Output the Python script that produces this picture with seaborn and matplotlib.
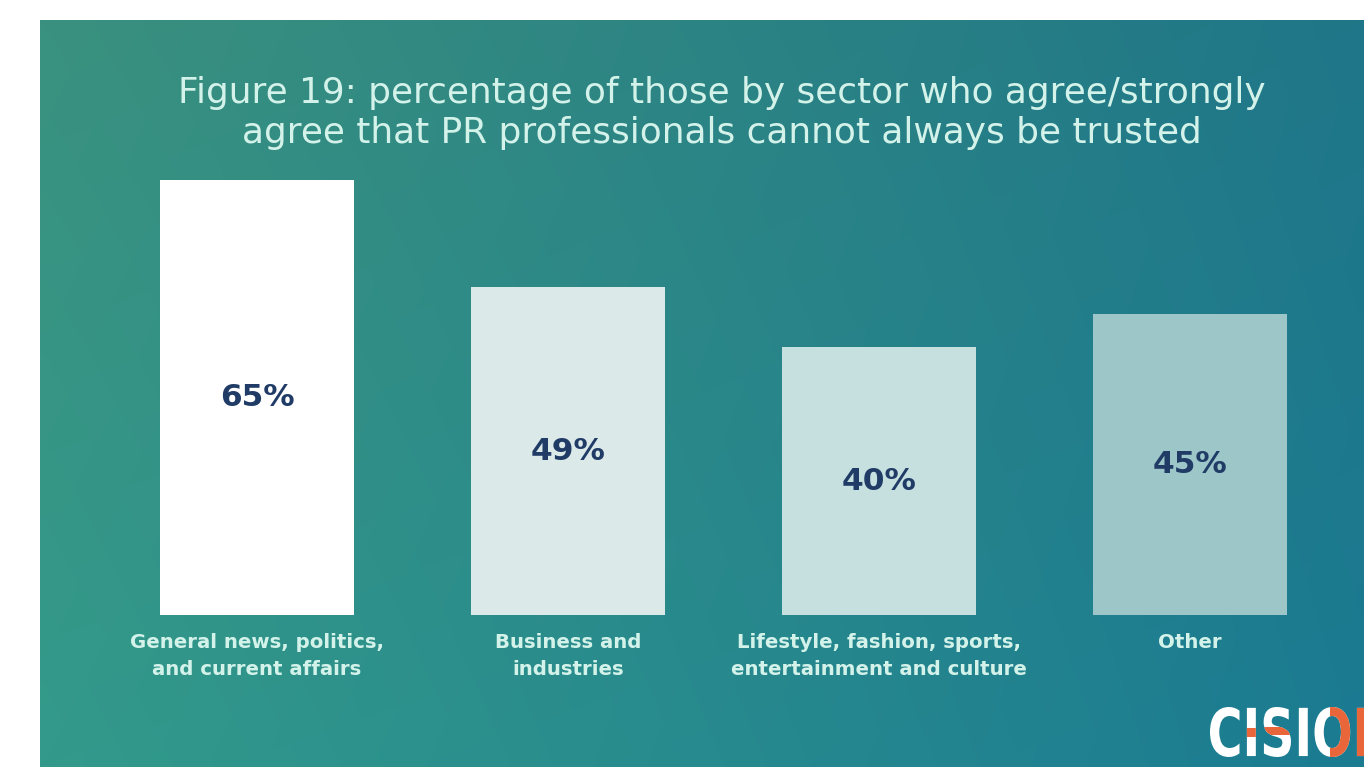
import numpy as np
import pandas as pd
import matplotlib
matplotlib.use("Agg")
import matplotlib.pyplot as plt
import seaborn as sns
from matplotlib.colors import to_rgb
from matplotlib.textpath import TextPath
from matplotlib.patches import PathPatch, Rectangle
from matplotlib.font_manager import FontProperties
from matplotlib.transforms import Affine2D

# Chart data
categories = [
    "General news, politics,\nand current affairs",
    "Business and\nindustries",
    "Lifestyle, fashion, sports,\nentertainment and culture",
    "Other",
]
values = [65, 49, 40, 45]
value_labels = ["65%", "49%", "40%", "45%"]
title = ("Figure 19: percentage of those by sector who agree/strongly\n"
         "agree that PR professionals cannot always be trusted")

bar_colors = ["#ffffff", "#dbe9e8", "#c6dfdf", "#9dc6c9"]
value_color = "#1f3b66"
text_color = "#d3f2ea"

sns.set_theme(style="white")
plt.rcParams["font.family"] = ["DejaVu Sans"]

W, H = 1364, 767
fig = plt.figure(figsize=(W / 100, H / 100), dpi=100, facecolor="white")

# Teal gradient panel
bg = fig.add_axes([40 / W, 0, (W - 40) / W, (H - 20) / H])
tl, tr = np.array(to_rgb("#3a917f")), np.array(to_rgb("#1f7688"))
bl, br = np.array(to_rgb("#339a8b")), np.array(to_rgb("#1b7b92"))
nx, ny = 200, 120
u = np.linspace(0, 1, nx)[None, :, None]
v = np.linspace(0, 1, ny)[:, None, None]
grad = (1 - v) * ((1 - u) * tl + u * tr) + v * ((1 - u) * bl + u * br)
bg.imshow(grad, aspect="auto", extent=[0, 1, 0, 1], interpolation="bicubic")
bg.set_xlim(0, 1)
bg.set_ylim(0, 1)
bg.axis("off")

# Bar axes
ax_left = 101.5 / W
ax_w = 1244 / W
ax_bottom = (H - 615) / H
px_per_unit = 435 / 65
ymax = 70
ax_h = ymax * px_per_unit / H
ax = fig.add_axes([ax_left, ax_bottom, ax_w, ax_h])
ax.patch.set_alpha(0)

df = pd.DataFrame({"category": categories, "value": values})
sns.barplot(data=df, x="category", y="value", hue="category",
            palette=bar_colors, saturation=1, width=0.624,
            legend=False, ax=ax, linewidth=0)
ax.set_xlim(-0.5, 3.5)
ax.set_ylim(0, ymax)
ax.set_xlabel("")
ax.set_ylabel("")
ax.set_yticks([])
for s in ax.spines.values():
    s.set_visible(False)
ax.tick_params(axis="x", length=0, pad=13)
for lbl in ax.get_xticklabels():
    lbl.set_color(text_color)
    lbl.set_fontsize(14.2)
    lbl.set_fontweight("bold")
    lbl.set_linespacing(1.5)
    lbl.set_verticalalignment("top")

for i, (val, lab) in enumerate(zip(values, value_labels)):
    ax.text(i, val / 2, lab, ha="center", va="center", fontsize=22.5,
            fontweight="bold", color=value_color)

fig.text(722 / W, 1 - 113 / H, title, ha="center", va="center",
         fontsize=25.8, color=text_color, linespacing=1.24)

# Logo lettering
fp = FontProperties(family="DejaVu Sans", weight="bold")
tp = TextPath((0, 0), "CISION", prop=fp, size=1)
ext = tp.get_extents()
x0, y0 = 1210, H - 757
tw, th = 178, 50
trans = (Affine2D().translate(-ext.x0, -ext.y0)
         .scale(tw / ext.width, th / ext.height)
         .translate(x0, y0))
logo = PathPatch(trans.transform_path(tp), facecolor="white",
                 edgecolor="none", transform=None)
fig.patches.append(logo)
logo.set_figure(fig)
for rx, ry, rw, rh in [(1244, H - 737, 14, 9), (1262, H - 735, 30, 8),
                       (1330, H - 757, 20, 50), (1352, H - 757, 20, 50)]:
    r = Rectangle((rx, ry), rw, rh, facecolor="#e8663a", edgecolor="none",
                  transform=None)
    r.set_clip_path(logo.get_path(), Affine2D())
    fig.patches.append(r)
    r.set_figure(fig)

fig.savefig("out.png", dpi=100, facecolor="white")
